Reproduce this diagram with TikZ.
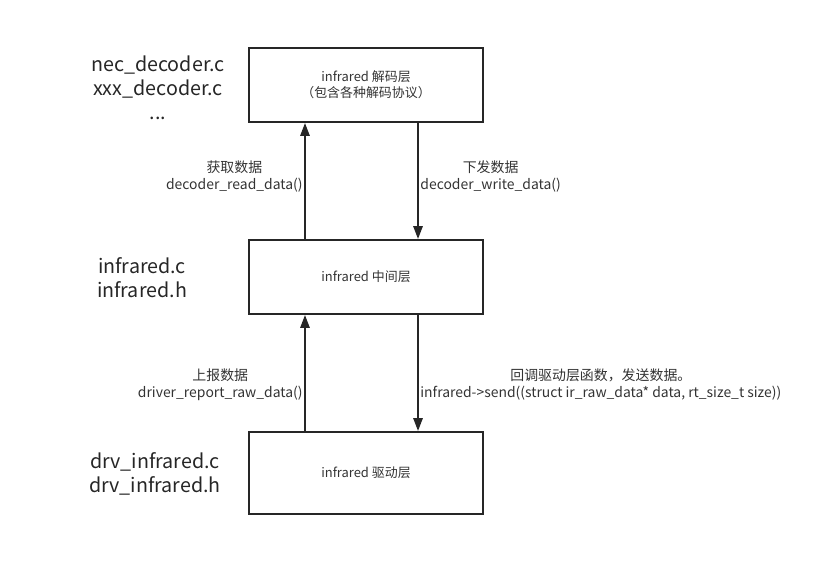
\documentclass[tikz,border=0pt]{standalone}
\usepackage{fontspec}
\setmainfont{Noto Sans CJK SC}
\usetikzlibrary{arrows.meta}

\begin{document}
\begin{tikzpicture}[x=0.025cm,y=-0.025cm,
  layer/.style={draw=black!85, line width=1.4pt, minimum width=5.85cm, minimum height=1.85cm, align=center, font=\fontsize{9.2}{11.4}\selectfont, text=black!80},
  flow/.style={draw=black!85, line width=1.4pt, -{Triangle[length=3.2mm,width=2.3mm]}},
  note/.style={align=center, font=\fontsize{9.9}{12.5}\selectfont, text=black!80, inner sep=1pt},
  files/.style={align=center, font=\fontsize{14}{17}\selectfont, text=black!85}]
\useasboundingbox (0,0) rectangle (840,576);

% layers
\node[layer] at (366,85) (dec){infrared 解码层\\（包含各种解码协议）};
\node[layer] at (366,277) (mid){infrared 中间层};
\node[layer, minimum height=2.05cm] at (366,473) (drv){infrared 驱动层};

% source files
\node[files] at (158,88) (decfiles){nec\_decoder.c\\xxx\_decoder.c\\...};
\node[files] at (142,278) (midfiles){infrared.c\\infrared.h};
\node[files] at (155,474) (drvfiles){drv\_infrared.c\\drv\_infrared.h};

% data flow
\draw[flow] ([xshift=-1.525cm]mid.north) -- ([xshift=-1.525cm]dec.south) node[pos=0.54, anchor=east, note]{获取数据\\decoder\_read\_data()};
\draw[flow] ([xshift=1.3cm]dec.south) -- ([xshift=1.3cm]mid.north) node[pos=0.46, anchor=west, note]{下发数据\\decoder\_write\_data()};
\draw[flow] ([xshift=-1.525cm]drv.north) -- ([xshift=-1.525cm]mid.south) node[pos=0.4, anchor=east, note]{上报数据\\driver\_report\_raw\_data()};
\draw[flow] ([xshift=1.3cm]mid.south) -- ([xshift=1.3cm]drv.north) node[pos=0.6, anchor=west, note]{回调驱动层函数，发送数据。\\infrared->send((struct ir\_raw\_data* data, rt\_size\_t size))};

\end{tikzpicture}
\end{document}
